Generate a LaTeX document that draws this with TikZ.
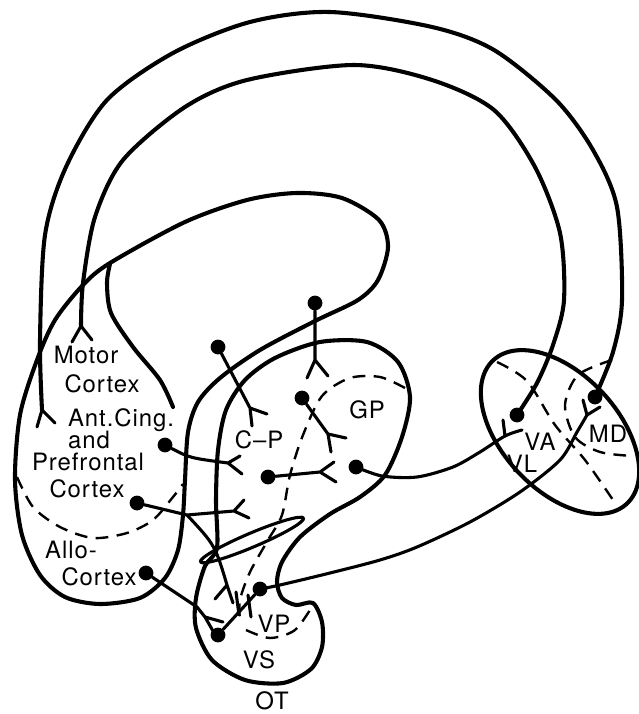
\documentclass[tikz,border=0pt]{standalone}
\usepackage{fontspec}
\setmainfont{TeX Gyre Heros}[LetterSpace=4]
\tikzset{
  every picture/.style={font={\fontsize{17}{19}\selectfont}, line cap=round, line join=round}}

\begin{document}
\begin{tikzpicture}[x=0.025cm, y=-0.025cm,
    tract/.style={line width=2.9pt},
    axon/.style={line width=2.2pt},
    bound/.style={line width=1.7pt, dash pattern=on 9pt off 6pt, line cap=butt},
    cell/.style={circle, fill, inner sep=0pt, minimum size=0.37cm},
    lbl/.style={anchor=base, inner sep=0pt}]

  \useasboundingbox (0,0) rectangle (638,714);

  % cell bodies
  \node[cell] (md) at (595,397) {};
  \node[cell] (va) at (517,415) {};
  \node[cell] (gpo) at (356,467) {};
  \node[cell] (vpo) at (260,589) {};
  \node[cell] (vso) at (218,635) {};
  \node[cell] (mc) at (315,303) {};
  \node[cell] (ca) at (218,347) {};
  \node[cell] (gpi) at (302,398) {};
  \node[cell] (cpo) at (268,477) {};
  \node[cell] (acg) at (165,445) {};
  \node[cell] (pfc) at (137,503) {};
  \node[cell] (allo) at (146,573) {};

  % terminals
  \coordinate (pft) at (42,410);
  \coordinate (mot) at (81,326);
  \coordinate (mct) at (315,360);
  \coordinate (cat) at (250,408);
  \coordinate (gpit) at (328,434);
  \coordinate (cpt) at (320,472);
  \coordinate (acgt) at (228,463);
  \coordinate (pfcb) at (187,515);
  \coordinate (pfct) at (234,511);
  \coordinate (pfcv) at (227,585);
  \coordinate (allot) at (205,617);
  \coordinate (vlt) at (505,436);
  \coordinate (mdt) at (587,415);

  % cortex, loop and outer edge of the striatum
  \draw[tract] plot[smooth cycle] coordinates {(297,193) (342,198) (379,220)
    (388,247) (378,280) (358,300) (315,321) (260,350) (220,378) (198,402)
    (188,432) (185,480) (183,515) (178,550) (165,578) (140,598) (100,604)
    (65,597) (40,575) (22,535) (15,480) (20,415) (37,360) (55,320) (83,285)
    (110,263) (185,222) (247,200)};
  \draw[tract] plot[smooth] coordinates {(110,264) (107,283) (111,313)
    (133,347) (160,380) (173,407)};

  % striatum, pallidum and ventral parts
  \draw[tract] plot[smooth cycle] coordinates {(217,548) (216,500) (218,450)
    (226,410) (245,380) (275,358) (320,342) (367,342) (398,362) (410,397)
    (402,437) (385,475) (360,497) (330,514) (300,537) (282,562) (277,582)
    (282,598) (296,605) (313,603) (322,622) (322,647) (311,669) (283,683)
    (245,680) (212,660) (196,628) (196,598) (205,566)};
  \draw[axon, rotate around={23:(252,540)}] (252,540) ellipse [x radius=56, y radius=7];

  % thalamus
  \draw[tract, rotate around={-47:(560,432)}] (560,432) ellipse [x radius=98, y radius=58];

  % dashed borders
  \draw[bound] plot[smooth] coordinates {(405,388) (380,377) (350,378) (322,396)
    (303,435) (290,475) (282,515) (268,540) (250,572) (240,600) (240,622)};
  \draw[bound] plot[smooth] coordinates {(246,630) (270,638) (295,630) (313,605)};
  \draw[bound] plot[smooth] coordinates {(17,477) (33,507) (60,527) (93,538)
    (127,533) (153,520) (173,497) (183,484)};
  \draw[bound] plot[smooth] coordinates {(497,362) (527,381) (555,425) (585,460) (613,500)};
  \draw[bound] plot[smooth] coordinates {(612,360) (578,375) (565,405) (575,437)
    (600,452) (633,456)};

  % long loops back to the cortex
  \draw[tract] plot[smooth] coordinates {(pft) (40,340) (45,235) (66,167)
    (107,100) (173,53) (250,22) (330,12) (432,27) (494,50) (556,100) (593,150)
    (617,207) (622,300) (613,352) (md)};
  \draw[tract] plot[smooth] coordinates {(mot) (83,283) (95,217) (123,160)
    (185,107) (247,80) (354,65) (432,80) (494,110) (535,167) (560,233)
    (564,300) (553,345) (537,383) (va)};
  \draw[axon] (pft) -- ++(-5,17) (pft) -- ++(13,13);
  \draw[axon] (mot) -- ++(-9,16) (mot) -- ++(11,14);

  % pallidal and ventral pallidal output
  \draw[axon] plot[smooth] coordinates {(gpo) (382,476) (417,477) (453,467)
    (480,452) (vlt) (522,430)};
  \draw[axon] (vlt) -- ++(-2,-16);
  \draw[axon] plot[smooth] coordinates {(vpo) (280,585) (330,573) (380,560)
    (417,547) (470,522) (520,492) (560,460) (577,432) (mdt)};
  \draw[axon] (mdt) -- ++(-4,-15) (mdt) -- ++(13,-8);

  % corticostriatal and striatopallidal fibres
  \draw[axon] (mc) -- (mct) -- ++(-8,18) (mct) -- ++(13,16);
  \draw[axon] (ca) -- (cat) -- ++(2,18) (cat) -- ++(17,6);
  \draw[axon] (gpi) -- (gpit) -- ++(3,18) (gpit) -- ++(18,4);
  \draw[axon] (cpo) -- (cpt) -- ++(14,-10) (cpt) -- ++(16,10);
  \draw[axon] (acg) .. controls (190,458) .. (acgt) -- ++(12,-7) (acgt) -- ++(14,11);
  \draw[axon] (pfc) -- (pfcb) -- (pfct) -- ++(10,-11) (pfct) -- ++(15,7);
  \draw[axon] (pfcb) .. controls (215,545) .. (pfcv) -- ++(-12,14) (pfcv) -- ++(6,18);
  \draw[axon] (allo) -- (197,607) -- (allot) -- ++(8,14) (allot) -- ++(18,5);
  \draw[axon] (vso) -- (vpo);
  \draw[axon] (236,592) -- (239,615) (248,595) -- (251,617);

  % labels
  \node[lbl] (motor) at (86,363) {Motor};
  \node[lbl] (mctx) at (102,392) {Cortex};
  \node[lbl] (antc) at (121,426) {Ant.Cing.};
  \node[lbl] (and) at (89,448) {and};
  \node[lbl] (pref) at (88,470) {Prefrontal};
  \node[lbl] (pctx) at (87,497) {Cortex};
  \node[lbl] (allol) at (71,558) {Allo-};
  \node[lbl] (actx) at (99,585) {Cortex};
  \node[lbl] (cpl) at (259,448) {C--P};
  \node[lbl] (gpl) at (367,418) {GP};
  \node[lbl] (val) at (540,450) {VA};
  \node[lbl] (vll) at (522,472) {VL};
  \node[lbl] (mdl) at (608,442) {MD};
  \node[lbl] (vpl) at (274,632) {VP};
  \node[lbl] (vsl) at (259,668) {VS};
  \node[lbl] (otl) at (272,709) {OT};
\end{tikzpicture}
\end{document}
